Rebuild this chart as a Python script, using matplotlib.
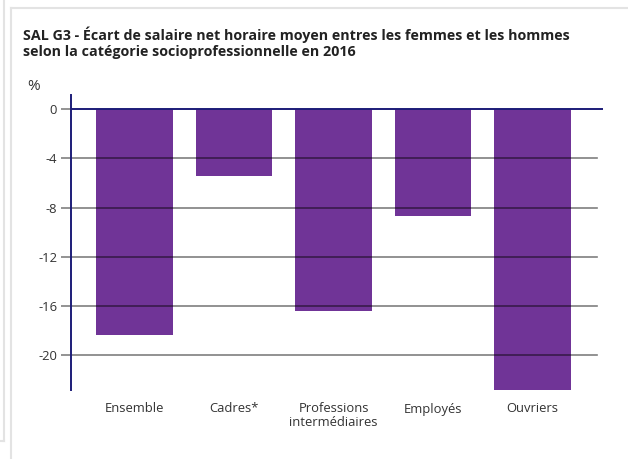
import matplotlib
matplotlib.use("Agg")
import matplotlib.pyplot as plt
from matplotlib.lines import Line2D

categories = ["Ensemble", "Cadres*", "Professions\nintermédiaires", "Employés", "Ouvriers"]
values = [-18.3, -5.4, -16.4, -8.7, -22.8]
yticks = [0, -4, -8, -12, -16, -20]
title = "SAL G3 - Écart de salaire net horaire moyen entres les femmes et les hommes\nselon la catégorie socioprofessionnelle en 2016"

plt.rcParams['font.family'] = ['Open Sans', 'DejaVu Sans']

fig = plt.figure(figsize=(6.28, 4.59), dpi=100)
W, H = 628, 459
ax = fig.add_axes([71 / W, 1 - 390 / H, (603 - 71) / W, (390 - 95) / H])

x = list(range(len(categories)))
ax.bar(x, values, width=0.77, color="#703497", zorder=2)

ax.set_xlim(-0.64, len(categories) - 1 + 0.71)
ax.set_ylim(-22.8, 1.14)

for t in yticks:
    if t == 0:
        ax.axhline(0, color="#1c1c78", lw=1.4, zorder=4)
    else:
        ax.axhline(t, xmin=0, xmax=(597 - 71) / (603 - 71), color="black", alpha=0.5, lw=1.2, zorder=3)

ax.set_yticks(yticks)
ax.set_yticklabels([str(t) for t in yticks])
ax.set_xticks(x)
ax.set_xticklabels(categories, linespacing=1.05)
ax.tick_params(axis='y', length=7, width=1.2, color="#808080", labelsize=9.4, labelcolor="#333333", pad=3)
ax.tick_params(axis='x', length=0, labelsize=9.4, labelcolor="#333333", pad=9)

for s in ["top", "right", "bottom"]:
    ax.spines[s].set_visible(False)
ax.spines["left"].set_color("#1c1c78")
ax.spines["left"].set_linewidth(1.4)
ax.spines["left"].set_zorder(5)

fig.text(23 / W, 1 - 43 / H, title, fontsize=10.3, fontweight="bold", color="#222222",
         va="center", ha="left", linespacing=1.2)
fig.text(27 / W, 1 - 87 / H, "%", fontsize=11, color="#333333", va="center", ha="left")

# card borders
border = "#e3e3e3"
fig.add_artist(Line2D([11 / W, 11 / W], [0, 1 - 8 / H], transform=fig.transFigure, color=border, lw=1.5))
fig.add_artist(Line2D([11 / W, 1], [1 - 8 / H, 1 - 8 / H], transform=fig.transFigure, color=border, lw=1.5))
fig.add_artist(Line2D([4 / W, 4 / W], [1 - 441 / H, 1], transform=fig.transFigure, color=border, lw=1.5))
fig.add_artist(Line2D([0, 4 / W], [1 - 441 / H, 1 - 441 / H], transform=fig.transFigure, color=border, lw=1.5))

fig.savefig("out.png", dpi=100)
